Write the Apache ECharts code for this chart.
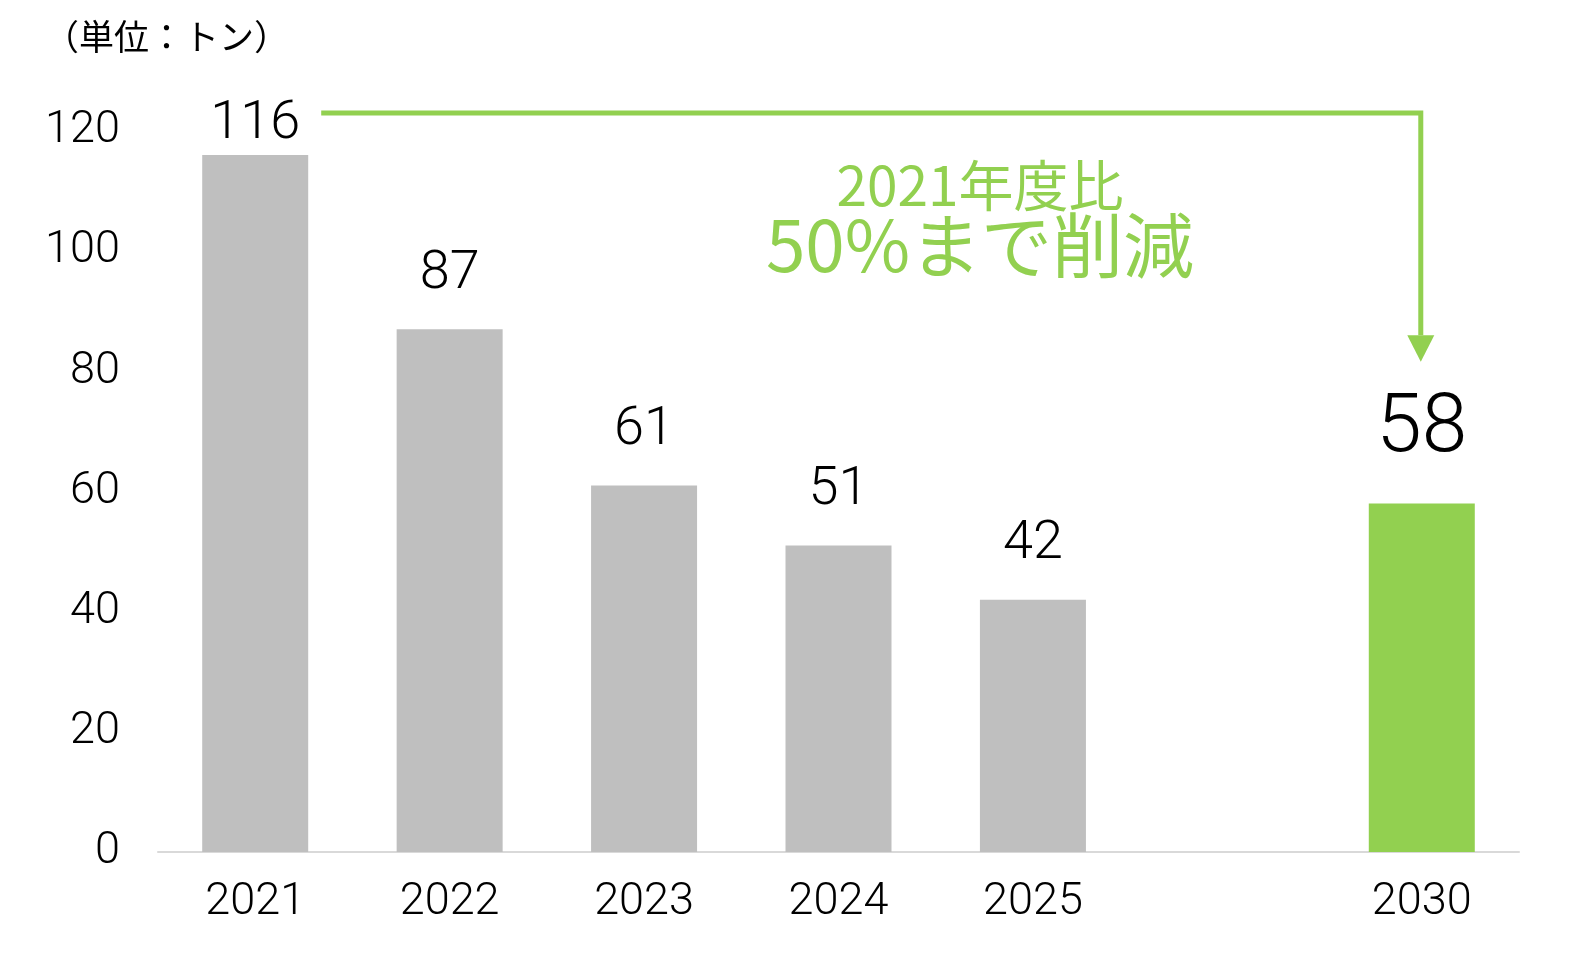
<!DOCTYPE html>
<html>
<head>
<meta charset="utf-8">
<title>削減目標</title>
<script src="https://cdn.jsdelivr.net/npm/echarts@6/dist/echarts.min.js"></script>
<style>
  html, body { margin: 0; padding: 0; background: #fff; }
  #main { width: 1572px; height: 956px; }
</style>
</head>
<body>
<div id="main"></div>
<script>
// データ
var years = ['2021', '2022', '2023', '2024', '2025', '', '2030'];
var tons = [116, 87, 61, 51, 42, null, 58];
var yTicks = [0, 20, 40, 60, 80, 100, 120];

var gray = '#BFBFBF';
var green = '#92D050';
var numFont = 'Roboto, sans-serif';
var jpFont = '"Noto Sans CJK JP", sans-serif';

var barData = tons.map(function (v, i) {
  if (v === null) return '-';
  var last = years[i] === '2030';
  return {
    value: v,
    itemStyle: { color: last ? green : gray },
    label: {
      fontSize: last ? 82 : 54,
      distance: i === 0 ? 4 : (last ? 32 : 28)
    }
  };
});

var chart = echarts.init(document.getElementById('main'));
chart.setOption({
  animation: false,
  backgroundColor: '#fff',
  grid: { left: 158, right: 53, top: 131, bottom: 104 },
  xAxis: {
    type: 'category',
    data: years,
    axisTick: { show: false },
    axisLine: { lineStyle: { color: '#D9D9D9', width: 2 } },
    axisLabel: { color: '#000', fontSize: 45, fontWeight: 300, fontFamily: numFont, margin: 28 }
  },
  yAxis: {
    type: 'value',
    min: yTicks[0],
    max: yTicks[yTicks.length - 1],
    interval: 20,
    splitLine: { show: false },
    axisLine: { show: false },
    axisTick: { show: false },
    axisLabel: { color: '#000', fontSize: 45, fontWeight: 300, fontFamily: numFont, margin: 38 }
  },
  series: [{
    type: 'bar',
    data: barData,
    barWidth: 106,
    label: {
      show: true,
      position: 'top',
      color: '#000',
      fontWeight: 300,
      fontFamily: numFont
    }
  }]
});

// 矢印と注記（軸の座標から位置を出す）
function px(cat, val) { return chart.convertToPixel({ gridIndex: 0 }, [cat, val]); }
var start = px('2021', 123);
var corner = px('2030', 123);
var headTop = px('2030', 86);
var tip = px('2030', 81.6);
var sx = start[0] + 66;

chart.setOption({
  graphic: [
    {
      type: 'polyline',
      shape: { points: [[sx, start[1]], [corner[0] - 1, corner[1]], [corner[0] - 1, headTop[1]]] },
      style: { stroke: green, lineWidth: 5, fill: null }
    },
    {
      type: 'polygon',
      shape: { points: [[corner[0] - 14.5, headTop[1]], [corner[0] + 12.5, headTop[1]], [corner[0] - 1, tip[1]]] },
      style: { fill: green }
    },
    {
      type: 'text',
      left: 44, top: 19,
      style: { text: '（単位：トン）', fill: '#000', font: '35px ' + jpFont }
    },
    {
      type: 'text',
      x: 980, y: 185,
      style: { text: '2021年度比', fill: green, font: '55px ' + jpFont, align: 'center', verticalAlign: 'middle' }
    },
    {
      type: 'text',
      x: 980, y: 245,
      style: { text: '50%まで削減', fill: green, font: '71px ' + jpFont, align: 'center', verticalAlign: 'middle' }
    }
  ]
});
</script>
</body>
</html>
